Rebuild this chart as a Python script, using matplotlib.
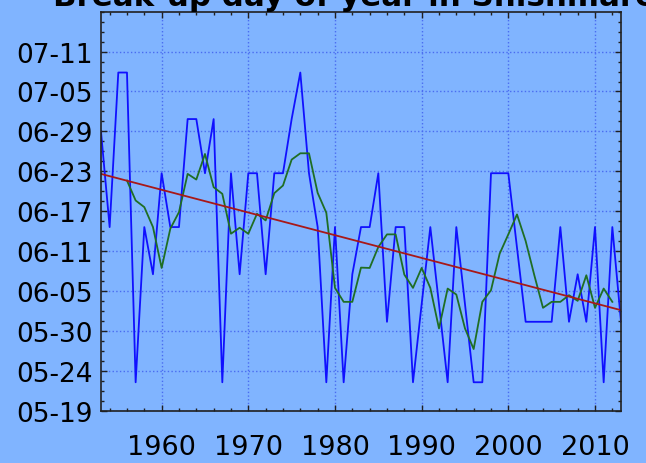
import matplotlib
matplotlib.use("Agg")
import matplotlib.pyplot as plt
from matplotlib.ticker import MultipleLocator, FixedLocator, FixedFormatter

# break-up day of year
years = list(range(1953, 2014))
breakup = [180.0, 165.6, 188.85, 188.85, 142.25, 165.6, 158.5, 173.7, 165.6, 165.6,
           181.85, 181.85, 173.7, 181.85, 142.25, 173.7, 158.5, 173.7, 173.7, 158.5,
           173.7, 173.7, 181.85, 188.85, 173.7, 165.6, 142.25, 165.6, 142.25, 158.5,
           165.6, 165.6, 173.7, 151.35, 165.6, 165.6, 142.25, 154.0, 165.6, 154.0,
           142.25, 165.6, 154.0, 142.25, 142.25, 173.7, 173.7, 173.7, 162.5, 151.35,
           151.35, 151.35, 151.35, 165.6, 151.35, 158.5, 151.35, 165.6, 142.25, 165.6,
           151.35]

# smoothed curve
smooth_years = list(range(1956, 2013))
smooth = [172.6, 169.6, 168.6, 165.6, 159.45, 165.35, 167.85, 173.6, 172.75, 176.6,
          171.6, 170.6, 164.6, 165.5, 164.6, 167.6, 166.6, 170.7, 171.85, 175.75,
          176.7, 176.7, 170.75, 167.75, 156.45, 154.35, 154.35, 159.5, 159.45, 162.6,
          164.5, 164.5, 158.45, 156.45, 159.45, 156.45, 150.35, 156.35, 155.45, 150.35,
          147.25, 154.35, 156.1, 161.6, 164.5, 167.5, 163.5, 158.35, 153.45, 154.35,
          154.35, 155.35, 154.5, 158.35, 153.45, 156.35, 154.35]

# linear trend end points
trend_years = [1953, 2013]
trend = [173.6, 153.1]

ytick_vals = [138, 144, 150, 156, 162, 168, 174, 180, 186, 192]
ytick_labels = ["05-19", "05-24", "05-30", "06-05", "06-11", "06-17",
                "06-23", "06-29", "07-05", "07-11"]
xtick_vals = [1960, 1970, 1980, 1990, 2000, 2010]

bg = "#80b4ff"

fig = plt.figure(figsize=(6.46, 4.64), dpi=100, facecolor=bg)
ax = fig.add_axes([0.1563, 0.1131, 0.805, 0.8595], facecolor=bg)

ax.plot(years, breakup, color="#1010ff", lw=1.3)
ax.plot(smooth_years, smooth, color="#1f6e24", lw=1.3)
ax.plot(trend_years, trend, color="#a81818", lw=1.3)

ax.set_xlim(1953, 2013)
ax.set_ylim(138, 198)
ax.xaxis.set_major_locator(FixedLocator(xtick_vals))
ax.xaxis.set_minor_locator(MultipleLocator(2))
ax.yaxis.set_major_locator(FixedLocator(ytick_vals))
ax.yaxis.set_major_formatter(FixedFormatter(ytick_labels))
ax.yaxis.set_minor_locator(MultipleLocator(1.5))

ax.grid(True, which="major", color="#4a6cf0", linestyle=":", lw=1)
ax.tick_params(which="both", direction="in", top=True, right=True, labelsize=19,
               color="#202020")
ax.tick_params(axis="x", labelsize=19.5)
ax.tick_params(which="major", length=4, width=1)
ax.tick_params(which="minor", length=2, width=1)
ax.tick_params(axis="x", pad=17)
ax.tick_params(axis="y", pad=6)
for s in ax.spines.values():
    s.set_color("#202020")
    s.set_linewidth(1.2)

ax.set_title("Break-up day of year in Shishmaref", fontsize=22.2, fontweight="bold", pad=5)

fig.savefig("out.png", dpi=100, facecolor=bg)
